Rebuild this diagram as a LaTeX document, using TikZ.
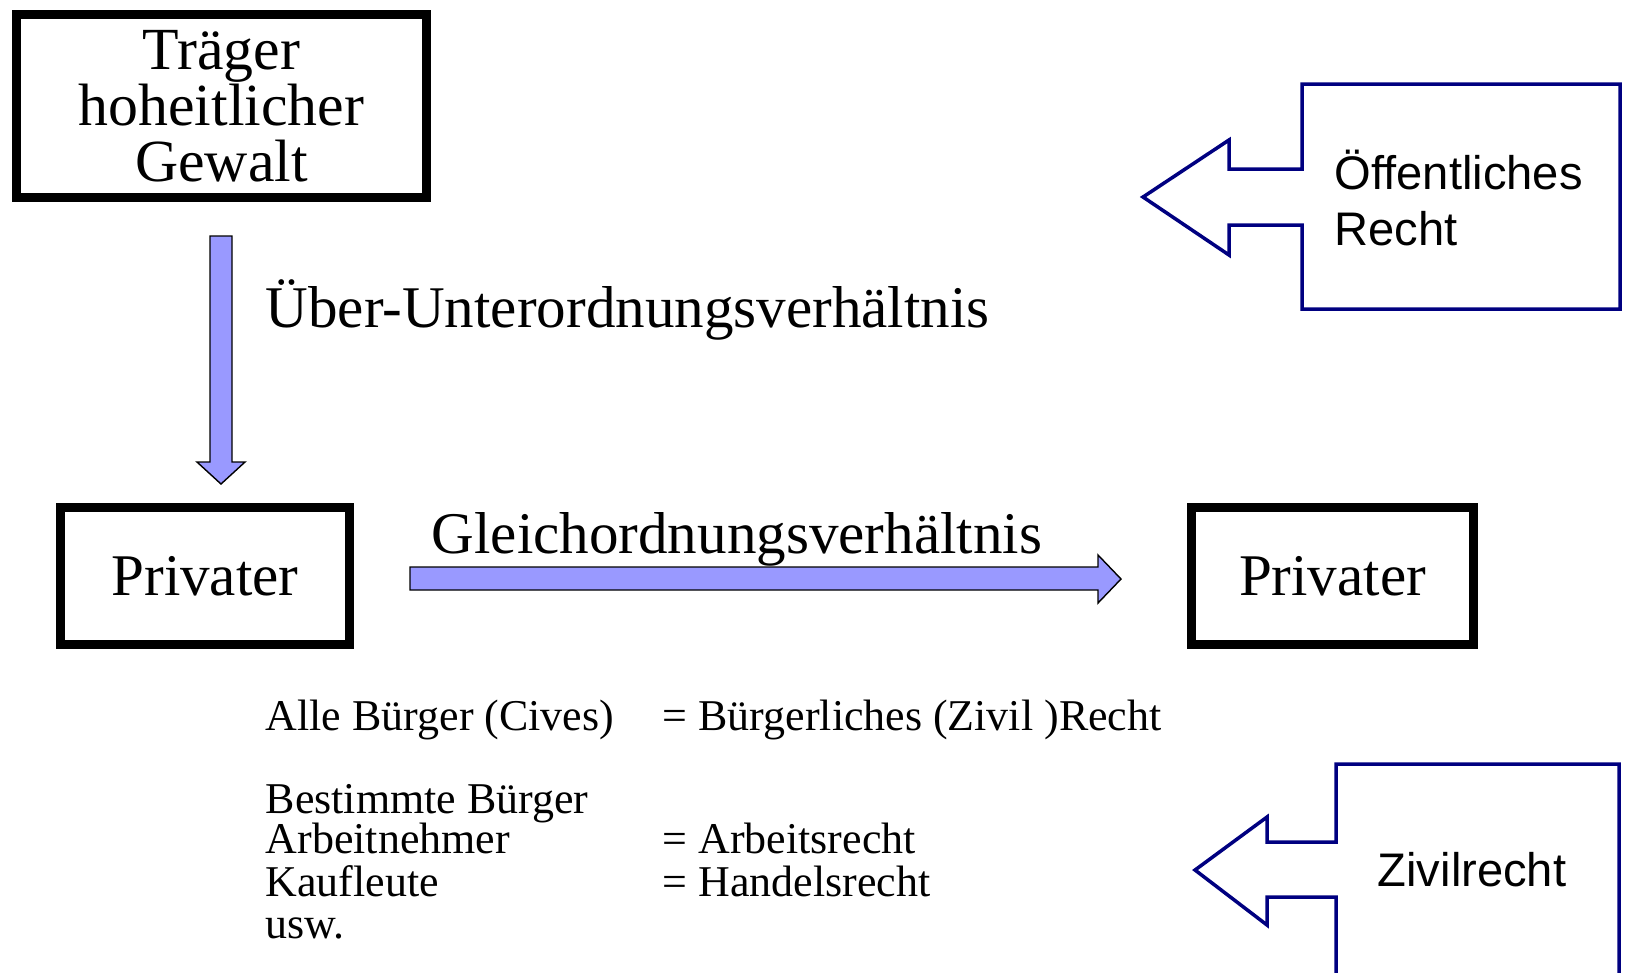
\documentclass[tikz,border=0pt]{standalone}
\usepackage{fontspec}
\setmainfont{Liberation Serif}
\setsansfont{Liberation Sans}
\usetikzlibrary{positioning}
\definecolor{pfeilblau}{HTML}{9999FF}
\definecolor{marine}{HTML}{000080}

\begin{document}
\begin{tikzpicture}[x=0.01cm,y=-0.01cm,
		kasten/.style={draw,line width=2.4pt,inner sep=0pt},
		gross/.style={font=\fontsize{16.8}{16}\selectfont},
		zeile/.style={font=\fontsize{12.5}{12}\selectfont,anchor=base west,inner sep=0pt},
		hinweis/.style={font=\sffamily\fontsize{13.4}{16}\selectfont,anchor=base west,inner sep=0pt},
		pfeil/.style={fill=pfeilblau,draw=black,line width=0.4pt},
		sprechblase/.style={draw=marine,line width=1pt}]
				\clip (0,0) rectangle (1628,972);
				\node(traeger)[kasten,minimum width=4.10cm,minimum height=1.83cm,align=center,font=\fontsize{17}{15.9}\selectfont] at (221.5,106) {Träger\\hoheitlicher\\Gewalt};
				\node(privat1)[kasten,minimum width=2.89cm,minimum height=1.37cm,gross] at (205,576) {Privater};
				\node(privat2)[kasten,minimum width=2.82cm,minimum height=1.37cm,gross] at (1332.5,576) {Privater};
				\node(ueber)[gross,anchor=base west,inner sep=0pt] at (265,327) {Über-Unterordnungsverhältnis};
				\node(gleich)[gross,anchor=base west,inner sep=0pt] at (431,553) {Gleichordnungsverhältnis};
				% Blockpfeile
				\draw[pfeil] (210,236) -- (232,236) -- (232,462) -- (245,462) -- (221,484) -- (197,462) -- (210,462) -- cycle;
				\draw[pfeil] (410,567) -- (1098,567) -- (1098,555) -- (1121,579) -- (1098,603) -- (1098,590) -- (410,590) -- cycle;
				% Zuordnung
				\node(alle)[zeile] at (265,730) {Alle Bürger (Cives)};
				\node(buergerlich)[zeile] at (662,730) {= Bürgerliches (Zivil )Recht};
				\node(bestimmte)[zeile] at (265,813) {Bestimmte Bürger};
				\node(arbeitnehmer)[zeile] at (265,853) {Arbeitnehmer};
				\node(arbeitsrecht)[zeile] at (662,853) {= Arbeitsrecht};
				\node(kaufleute)[zeile] at (265,896) {Kaufleute};
				\node(handelsrecht)[zeile] at (662,896) {= Handelsrecht};
				\node(usw)[zeile] at (265,938) {usw.};
				% Hinweise rechts
				\draw[sprechblase] (1302,169) -- (1302,84) -- (1620,84) -- (1620,309) -- (1302,309) -- (1302,225) -- (1229,225) -- (1229,255) -- (1143,197) -- (1229,140) -- (1229,169) -- cycle;
				\node(oeffentlich)[hinweis] at (1334,189) {Öffentliches};
				\node(recht)[hinweis] at (1334,245) {Recht};
				\draw[sprechblase] (1336,842) -- (1336,764) -- (1619,764) -- (1619,990) -- (1336,990) -- (1336,897) -- (1267,897) -- (1267,925) -- (1195,870) -- (1267,817) -- (1267,842) -- cycle;
				\node(zivil)[hinweis] at (1377,886) {Zivilrecht};
\end{tikzpicture}
\end{document}
